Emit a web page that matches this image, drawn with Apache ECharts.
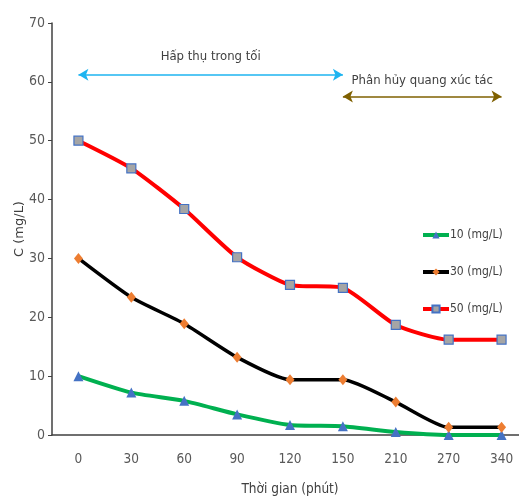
<!DOCTYPE html>
<html><head><meta charset="utf-8">
<script src="https://cdn.jsdelivr.net/npm/echarts@6/dist/echarts.min.js"></script>
<style>html,body{margin:0;padding:0;background:#fff}#c{width:519px;height:496px}</style>
</head><body><div id="c"></div>
<script>
const categories = ['0','30','60','90','120','150','210','270','340'];
const s10 = [10, 7.2, 5.8, 3.5, 1.7, 1.5, 0.5, 0, 0];
const s30 = [30, 23.4, 18.9, 13.2, 9.4, 9.4, 5.6, 1.3, 1.3];
const s50 = [50, 45.3, 38.4, 30.2, 25.5, 25.0, 18.7, 16.2, 16.2];
const seriesNames = ['10 (mg/L)', '30 (mg/L)', '50 (mg/L)'];
const yTicks = [0, 70, 10];

const font = '"Liberation Sans Narrow","DejaVu Sans Condensed",sans-serif';
const chart = echarts.init(document.getElementById('c'));
chart.setOption({
  animation: false,
  backgroundColor: '#fff',
  grid: {left: 52, top: 23, height: 412, width: 476, containLabel: false, outerBoundsMode: 'none'},
  legend: {
    orient: 'vertical', left: 416, top: 224, itemGap: 25,
    itemWidth: 26, itemHeight: 9,
    lineStyle: {width: 4},
    textStyle: {fontFamily: font, fontSize: 12, color: '#404040', padding: [0,0,0,-4]},
    data: seriesNames
  },
  xAxis: {
    type: 'category', data: categories, boundaryGap: true,
    axisLine: {lineStyle: {color: '#404040', width: 1.5}},
    axisTick: {show: false},
    axisLabel: {fontFamily: font, fontSize: 13.5, color: '#595959', margin: 17},
    name: 'Thời gian (phút)', nameLocation: 'middle', nameGap: 47, nameMoveOverlap: false,
    nameTextStyle: {fontFamily: font, fontSize: 13.5, color: '#404040'}
  },
  yAxis: {
    type: 'value', min: yTicks[0], max: yTicks[1], interval: yTicks[2],
    splitLine: {show: false},
    axisLine: {show: true, lineStyle: {color: '#404040', width: 1.5}},
    axisTick: {show: true, length: 4, lineStyle: {color: '#404040'}},
    axisLabel: {fontFamily: font, fontSize: 14, color: '#595959', margin: 7},
    name: 'C (mg/L)', nameLocation: 'middle', nameGap: 26, nameRotate: 90, nameMoveOverlap: false,
    nameTextStyle: {fontFamily: '"DejaVu Sans",sans-serif', fontSize: 13, color: '#404040'}
  },
  series: [
    {name: seriesNames[0], type: 'line', data: s10, smooth: 0.2,
     lineStyle: {color: '#00B050', width: 4}, itemStyle: {color: '#4472C4'},
     symbol: 'triangle', symbolSize: 10, z: 3,
     markLine: {
       silent: true, symbol: ['arrow','arrow'], symbolSize: [9, 10],
       lineStyle: {type: 'solid', width: 1.5},
       label: {show: true, position: 'middle', fontFamily: font, fontSize: 13, color: '#404040'},
       data: [
         [{coord: [0, 61.2], lineStyle: {color: '#1EB4F0'}, label: {formatter: 'Hấp thụ trong tối', distance: 12}},
          {coord: [5, 61.2]}],
         [{coord: [5, 57.5], lineStyle: {color: '#7F6000'}, label: {formatter: 'Phân hủy quang xúc tác', distance: 9}},
          {coord: [8, 57.5]}]
       ]
     }},
    {name: seriesNames[1], type: 'line', data: s30, smooth: 0.2,
     lineStyle: {color: '#000000', width: 3.5}, itemStyle: {color: '#ED7D31'},
     symbol: 'diamond', symbolSize: [9, 11], z: 4},
    {name: seriesNames[2], type: 'line', data: s50, smooth: 0.2,
     lineStyle: {color: '#FF0000', width: 4}, itemStyle: {color: '#A5A5A5', borderColor: '#4472C4', borderWidth: 1.2},
     symbol: 'rect', symbolSize: 9, z: 5}
  ]
});
</script></body></html>
